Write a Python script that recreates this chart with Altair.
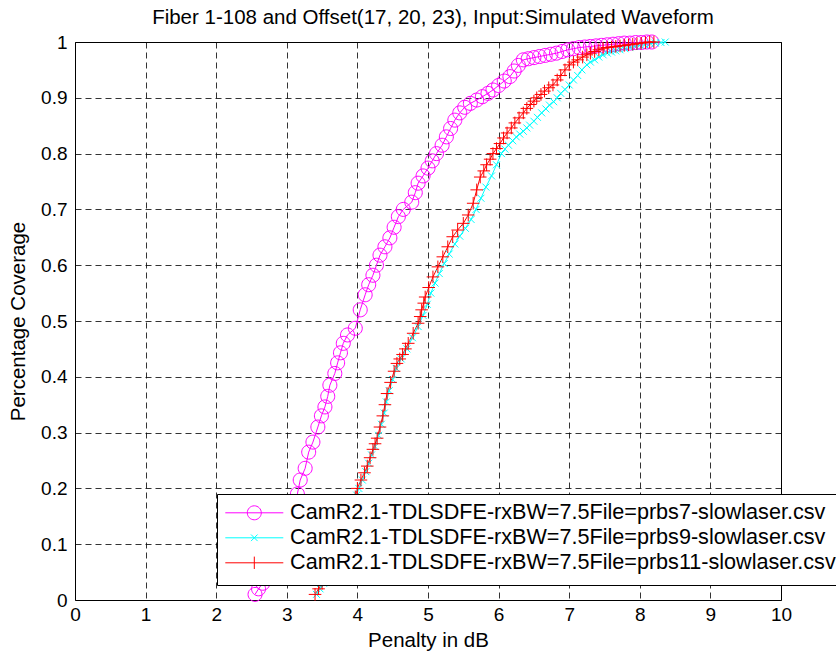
import altair as alt
import pandas as pd

# ---------------- data ----------------
series_names = [
    "CamR2.1-TDLSDFE-rxBW=7.5File=prbs7-slowlaser.csv",
    "CamR2.1-TDLSDFE-rxBW=7.5File=prbs9-slowlaser.csv",
    "CamR2.1-TDLSDFE-rxBW=7.5File=prbs11-slowlaser.csv",
]
series_colors = ["#FF00FF", "#00FFFF", "#FF0000"]

prbs7_x = [2.55, 2.60, 2.66, 2.72, 2.78, 2.84, 2.90, 2.96, 3.01, 3.06,
           3.11, 3.15, 3.19, 3.26, 3.31, 3.37, 3.44, 3.49, 3.54, 3.58,
           3.61, 3.68, 3.72, 3.76, 3.80, 3.86, 3.97, 4.04, 4.11, 4.16,
           4.22, 4.27, 4.32, 4.39, 4.46, 4.52, 4.58, 4.65, 4.77, 4.82,
           4.86, 4.93, 5.00, 5.06, 5.12, 5.20, 5.26, 5.32, 5.38, 5.45,
           5.52, 5.60, 5.69, 5.77, 5.85, 5.92, 6.00, 6.08, 6.16, 6.22,
           6.28, 6.35, 6.42, 6.50, 6.58, 6.66, 6.74, 6.82, 6.90, 6.98,
           7.06, 7.14, 7.22, 7.30, 7.38, 7.46, 7.54, 7.62, 7.70, 7.78,
           7.86, 7.94, 8.02, 8.10, 8.17]
prbs7_y = [0.010, 0.020, 0.030, 0.040, 0.055, 0.075, 0.095, 0.115, 0.135, 0.155,
           0.175, 0.190, 0.215, 0.236, 0.265, 0.283, 0.310, 0.330, 0.346, 0.365,
           0.385, 0.406, 0.425, 0.443, 0.460, 0.475, 0.487, 0.520, 0.547, 0.565,
           0.582, 0.600, 0.618, 0.633, 0.649, 0.668, 0.687, 0.700, 0.713, 0.730,
           0.747, 0.760, 0.774, 0.787, 0.800, 0.815, 0.830, 0.845, 0.860, 0.873,
           0.883, 0.890, 0.896, 0.902, 0.908, 0.914, 0.922, 0.930, 0.938, 0.948,
           0.958, 0.968, 0.970, 0.972, 0.974, 0.976, 0.978, 0.980, 0.983, 0.986,
           0.988, 0.990, 0.991, 0.992, 0.993, 0.994, 0.995, 0.996, 0.997, 0.998,
           0.998, 0.999, 0.999, 1.000, 1.000]

prbs9_x = [3.42, 3.47, 3.52, 3.58, 3.64, 3.70, 3.76, 3.82, 3.88, 3.94,
           3.99, 4.02, 4.07, 4.12, 4.16, 4.20, 4.25, 4.30, 4.34, 4.38,
           4.41, 4.45, 4.50, 4.55, 4.62, 4.70, 4.78, 4.86, 4.93, 4.99,
           5.04, 5.10, 5.16, 5.23, 5.30, 5.38, 5.45, 5.53, 5.61, 5.68,
           5.75, 5.82, 5.90, 5.97, 6.04, 6.09, 6.14, 6.20, 6.25, 6.30,
           6.35, 6.40, 6.44, 6.50, 6.55, 6.61, 6.67, 6.72, 6.78, 6.83,
           6.88, 6.94, 7.00, 7.06, 7.12, 7.18, 7.25, 7.30, 7.36, 7.42,
           7.48, 7.54, 7.60, 7.66, 7.72, 7.79, 7.86, 7.93, 8.00, 8.07,
           8.15, 8.22, 8.30, 8.36]
prbs9_y = [0.010, 0.020, 0.030, 0.050, 0.070, 0.090, 0.110, 0.130, 0.150, 0.170,
           0.188, 0.200, 0.215, 0.230, 0.245, 0.260, 0.275, 0.295, 0.315, 0.335,
           0.355, 0.375, 0.395, 0.415, 0.432, 0.450, 0.470, 0.490, 0.510, 0.530,
           0.550, 0.568, 0.585, 0.603, 0.620, 0.638, 0.652, 0.666, 0.682, 0.700,
           0.720, 0.740, 0.760, 0.780, 0.800, 0.808, 0.815, 0.823, 0.830, 0.835,
           0.840, 0.846, 0.851, 0.858, 0.865, 0.873, 0.880, 0.887, 0.893, 0.900,
           0.908, 0.915, 0.923, 0.932, 0.940, 0.950, 0.959, 0.964, 0.968, 0.973,
           0.977, 0.980, 0.982, 0.984, 0.986, 0.988, 0.990, 0.992, 0.994, 0.995,
           0.997, 0.998, 0.999, 1.000]

prbs11_x = [3.40, 3.45, 3.50, 3.56, 3.62, 3.68, 3.74, 3.80, 3.86, 3.92,
            3.97, 4.00, 4.05, 4.10, 4.14, 4.18, 4.22, 4.25, 4.28, 4.32,
            4.36, 4.39, 4.42, 4.47, 4.52, 4.56, 4.60, 4.64, 4.68, 4.72,
            4.79, 4.86, 4.89, 4.91, 4.94, 4.96, 5.01, 5.07, 5.14, 5.21,
            5.28, 5.35, 5.42, 5.50, 5.57, 5.64, 5.69, 5.74, 5.79, 5.83,
            5.88, 5.92, 5.97, 6.02, 6.07, 6.12, 6.18, 6.23, 6.29, 6.35,
            6.40, 6.45, 6.50, 6.54, 6.60, 6.65, 6.71, 6.77, 6.83, 6.88,
            6.94, 7.00, 7.06, 7.12, 7.19, 7.25, 7.30, 7.36, 7.42, 7.48,
            7.54, 7.60, 7.66, 7.72, 7.78, 7.84, 7.90, 7.96, 8.02, 8.08,
            8.14, 8.20]
prbs11_y = [0.010, 0.020, 0.030, 0.050, 0.070, 0.090, 0.110, 0.130, 0.150, 0.170,
            0.185, 0.200, 0.215, 0.228, 0.240, 0.255, 0.270, 0.280, 0.290, 0.310,
            0.330, 0.350, 0.370, 0.390, 0.410, 0.424, 0.432, 0.440, 0.450, 0.460,
            0.478, 0.496, 0.508, 0.520, 0.532, 0.543, 0.560, 0.579, 0.597, 0.615,
            0.633, 0.651, 0.663, 0.675, 0.690, 0.711, 0.735, 0.758, 0.769, 0.780,
            0.790, 0.800, 0.809, 0.818, 0.828, 0.837, 0.846, 0.855, 0.864, 0.873,
            0.881, 0.888, 0.894, 0.900, 0.906, 0.912, 0.918, 0.923, 0.932, 0.940,
            0.950, 0.959, 0.964, 0.968, 0.973, 0.977, 0.980, 0.983, 0.986, 0.989,
            0.990, 0.991, 0.992, 0.993, 0.994, 0.995, 0.996, 0.997, 0.998, 0.999,
            1.000, 1.000]

x_ticks = [0, 1, 2, 3, 4, 5, 6, 7, 8, 9, 10]
y_ticks = [0, 0.1, 0.2, 0.3, 0.4, 0.5, 0.6, 0.7, 0.8, 0.9, 1]

title_text = "Fiber 1-108 and Offset(17, 20, 23), Input:Simulated Waveform"
x_title = "Penalty in dB"
y_title = "Percentage Coverage"

# ---------------- build table ----------------
frames = []
for name, xs, ys in zip(series_names,
                        [prbs7_x, prbs9_x, prbs11_x],
                        [prbs7_y, prbs9_y, prbs11_y]):
    frames.append(pd.DataFrame({"series": name, "penalty": xs,
                                "coverage": ys, "order": list(range(len(xs)))}))
df = pd.concat(frames, ignore_index=True)

FONT = "Liberation Sans"

x_enc = alt.X("penalty:Q", scale=alt.Scale(domain=[0, 10], nice=False, zero=False),
              axis=alt.Axis(values=x_ticks, title=x_title, format="d"))
y_enc = alt.Y("coverage:Q", scale=alt.Scale(domain=[0, 1], nice=False),
              axis=alt.Axis(values=y_ticks, title=y_title, format="~g"))

color_scale = alt.Scale(domain=series_names, range=series_colors)

lines = alt.Chart(df).mark_line(strokeWidth=1).encode(
    x=x_enc, y=y_enc,
    color=alt.Color("series:N", scale=color_scale, legend=None),
    order="order:Q",
)

marker_shapes = [
    "M-1,0A1,1,0,1,0,1,0A1,1,0,1,0,-1,0",
    "M-0.5,-0.5L0.5,0.5M-0.5,0.5L0.5,-0.5",
    "M-0.9,0L0.9,0M0,-0.9L0,0.9",
]
points = alt.Chart(df).mark_point(filled=False, size=196, strokeWidth=1, opacity=1).encode(
    x=x_enc, y=y_enc,
    color=alt.Color("series:N", scale=color_scale, legend=None),
    shape=alt.Shape("series:N", scale=alt.Scale(domain=series_names, range=marker_shapes),
                    legend=None),
)

legend_shapes = [
    "M0,-1.18M-2.9,0L2.9,0M-0.7,0A0.7,0.7,0,1,0,0.7,0A0.7,0.7,0,1,0,-0.7,0M0,1.18",
    "M0,-1.18M-2.9,0L2.9,0M-0.33,-0.33L0.33,0.33M-0.33,0.33L0.33,-0.33M0,1.18",
    "M0,-1.18M-2.9,0L2.9,0M0,-0.62L0,0.62M0,1.18",
]
legend_kwargs = dict(
    title=None, orient="none", legendX=142, legendY=452, direction="vertical",
    labelFont=FONT, labelFontSize=21.6, labelColor="black", labelLimit=1000,
    symbolSize=400, symbolOffset=18.5, labelOffset=25, rowPadding=-4.5,
    padding=8, strokeColor="black", fillColor="white", symbolStrokeWidth=1,
)
key = alt.Chart(df).transform_filter("false").mark_point(
    filled=False, size=400, strokeWidth=1, opacity=1
).encode(
    color=alt.Color("series:N", scale=color_scale, legend=alt.Legend(**legend_kwargs)),
    shape=alt.Shape("series:N", scale=alt.Scale(domain=series_names, range=legend_shapes),
                    legend=alt.Legend(**legend_kwargs)),
)

chart = alt.layer(lines, points, key).resolve_scale(
    color="independent", shape="independent"
).properties(
    width=706, height=558,
    title=alt.TitleParams(title_text, font=FONT, fontSize=20.5, fontWeight="normal",
                          color="black", offset=5, anchor="middle", dx=5),
    padding={"left": 75, "top": 42, "right": 55, "bottom": 56},
    autosize=alt.AutoSizeParams(type="none"),
).configure_view(
    stroke="black", strokeWidth=1
).configure_axis(
    labelFont=FONT, labelFontSize=19, labelColor="black",
    titleFont=FONT, titleFontSize=20.5, titleFontWeight="normal", titleColor="black",
    grid=True, gridColor="#000000", gridDash=[6, 4], gridWidth=1, gridOpacity=0.8,
    domain=False, ticks=False, labelFlush=False,
).configure_axisX(
    labelPadding=5, titlePadding=6
).configure_axisY(
    labelPadding=8, titlePadding=12
)

chart.save("out.html", embed_options={"renderer": "svg", "actions": False})
